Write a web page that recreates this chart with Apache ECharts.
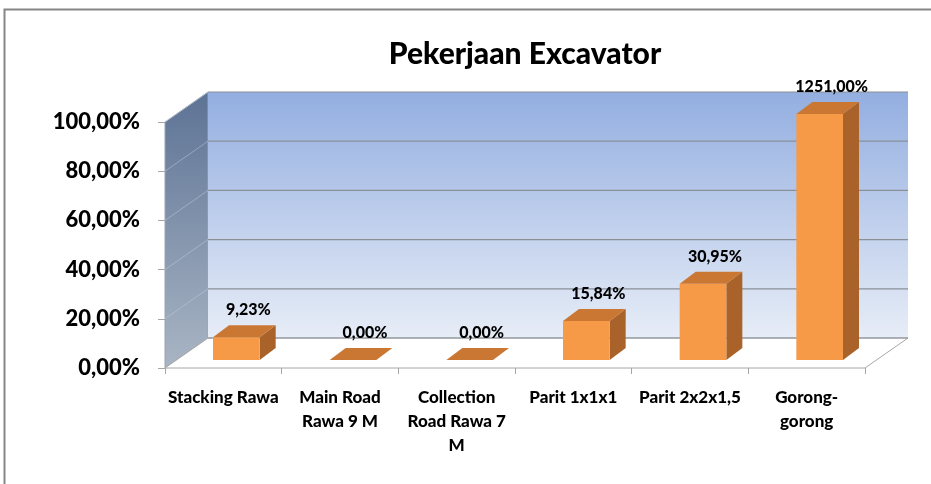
<!DOCTYPE html>
<html>
<head>
<meta charset="utf-8">
<script src="https://cdn.jsdelivr.net/npm/echarts@6/dist/echarts.min.js"></script>
<style>
  html, body { margin: 0; padding: 0; background: #fff; }
  #chart { width: 931px; height: 484px; }
</style>
</head>
<body>
<div id="chart"></div>
<script>
var categories = ['Stacking Rawa', 'Main Road\nRawa 9 M', 'Collection\nRoad Rawa 7\nM', 'Parit 1x1x1', 'Parit 2x2x1,5', 'Gorong-\ngorong'];
var values = [9.23, 0, 0, 15.84, 30.95, 1251];
var yTicks = [0, 20, 40, 60, 80, 100];

var yMax = 100;
var FONT = 'Lato, "Open Sans", sans-serif';
var WEIGHT = 900;

// depth of the box (walls) and of the bars, in pixels
var DX = 43, DY = -30;
var FX = 13, FY = -8;
var BX = 16, BY = -12;

function fmtPct(v) {
    return v.toFixed(2).replace('.', ',') + '%';
}

var chart = echarts.init(document.getElementById('chart'));

function renderWalls(params, api) {
    var cs = params.coordSys;
    var gx = cs.x, gw = cs.width;
    var y0 = api.coord([0, 0])[1];
    var y1 = api.coord([0, yMax])[1];
    var children = [];

    // side wall
    children.push({
        type: 'polygon',
        shape: { points: [[gx, y1], [gx + DX, y1 + DY], [gx + DX, y0 + DY], [gx, y0]] },
        style: {
            fill: new echarts.graphic.LinearGradient(0, 0, 0, 1, [
                { offset: 0, color: '#5d7395' },
                { offset: 1, color: '#a9b5c4' }
            ]),
            stroke: '#9aa4b2', lineWidth: 1
        }
    });
    // back wall
    children.push({
        type: 'rect',
        shape: { x: gx + DX, y: y1 + DY, width: gw, height: y0 - y1 },
        style: {
            fill: new echarts.graphic.LinearGradient(0, 0, 0, 1, [
                { offset: 0, color: '#93aee0' },
                { offset: 1, color: '#e7edf7' }
            ])
        }
    });
    // floor
    children.push({
        type: 'polygon',
        shape: { points: [[gx, y0], [gx + gw, y0], [gx + gw + DX, y0 + DY], [gx + DX, y0 + DY]] },
        style: { fill: '#ffffff', stroke: '#a6a6a6', lineWidth: 1 }
    });
    // gridlines
    yTicks.forEach(function (t) {
        var y = api.coord([0, t])[1];
        children.push({
            type: 'line',
            shape: { x1: gx + DX, y1: y + DY, x2: gx + gw + DX, y2: y + DY },
            style: { stroke: '#8a8f98', lineWidth: 1.2 }
        });
        if (t > 0) {
            children.push({
                type: 'line',
                shape: { x1: gx, y1: y, x2: gx + DX, y2: y + DY },
                style: { stroke: 'rgba(200,210,225,0.45)', lineWidth: 1 }
            });
        }
    });
    return { type: 'group', children: children };
}

function renderBar(params, api) {
    var idx = api.value(0);
    var raw = api.value(1);
    var v = Math.min(raw, yMax);
    var base = api.coord([idx, 0]);
    var top = api.coord([idx, v]);
    var w = api.size([1, 0])[0] * 0.4;
    var x0 = base[0] - w / 2 + FX;
    var x1 = x0 + w;
    var yb = base[1] + FY;
    var yt = top[1] + FY;
    return {
        type: 'group',
        children: [
            {
                type: 'polygon',
                shape: { points: [[x1, yt], [x1 + BX, yt + BY], [x1 + BX, yb + BY], [x1, yb]] },
                style: { fill: '#a8622a' }
            },
            {
                type: 'rect',
                shape: { x: x0, y: yt, width: w, height: yb - yt },
                style: { fill: '#f79a48' }
            },
            {
                type: 'polygon',
                shape: { points: [[x0, yt], [x1, yt], [x1 + BX, yt + BY], [x0 + BX, yt + BY]] },
                style: { fill: '#cb7734' }
            },
            {
                type: 'text',
                style: {
                    x: x0 + w / 2 + 12, y: yt + BY - 15,
                    text: fmtPct(raw),
                    align: 'center', verticalAlign: 'middle',
                    font: WEIGHT + ' 16px ' + FONT, fill: '#000'
                }
            }
        ]
    };
}

var option = {
    animation: false,
    title: {
        text: 'Pekerjaan Excavator',
        left: 520, top: 34, textAlign: 'center',
        textStyle: { fontFamily: FONT, fontWeight: WEIGHT, fontSize: 30, color: '#000' }
    },
    graphic: [{
        type: 'rect', silent: true, z: -10,
        shape: { x: 4.5, y: 9.5, width: 960, height: 500 },
        style: { fill: 'none', stroke: '#868686', lineWidth: 2 }
    }],
    grid: { left: 165, right: 66, top: 122, bottom: 116 },
    xAxis: {
        type: 'category',
        data: categories,
        axisLine: { show: false },
        axisTick: { show: true, length: 6, lineStyle: { color: '#a6a6a6' } },
        axisLabel: {
            interval: 0, margin: 18,
            fontFamily: FONT, fontWeight: WEIGHT, fontSize: 17, color: '#000', lineHeight: 24
        }
    },
    yAxis: {
        type: 'value',
        min: 0, max: yMax, interval: 20,
        axisLine: { show: true, lineStyle: { color: '#a6a6a6' } },
        axisTick: { show: true, length: 7, lineStyle: { color: '#a6a6a6' } },
        splitLine: { show: false },
        axisLabel: {
            margin: 25, formatter: fmtPct,
            fontFamily: FONT, fontWeight: WEIGHT, fontSize: 22, color: '#000'
        }
    },
    series: [
        {
            type: 'custom', z: 1, silent: true,
            renderItem: renderWalls,
            data: [[0, 0]]
        },
        {
            type: 'custom', z: 3,
            renderItem: renderBar,
            data: values.map(function (v, i) { return [i, v]; })
        }
    ]
};

chart.setOption(option);
</script>
</body>
</html>
